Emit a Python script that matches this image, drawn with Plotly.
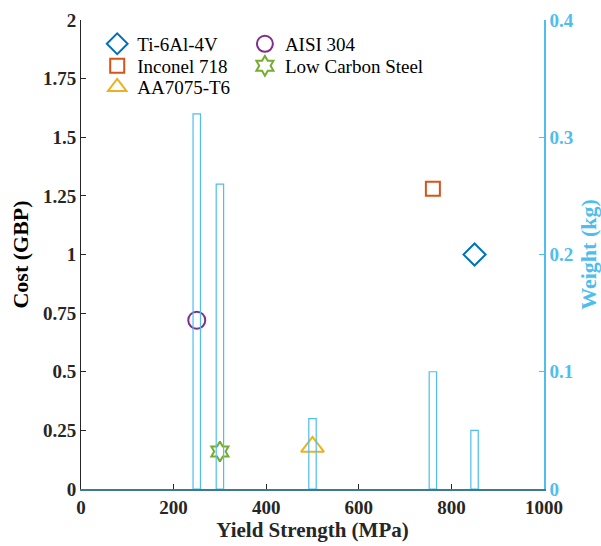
import plotly.graph_objects as go

# Materials: yield strength (MPa), cost (GBP) and part weight (kg)
materials = ["Ti-6Al-4V", "Inconel 718", "AA7075-T6", "AISI 304", "Low Carbon Steel"]
yield_strength = [850, 760, 500, 250, 300]
cost_gbp = [1.0, 1.28, 0.18, 0.72, 0.16]
weight_kg = [0.05, 0.10, 0.06, 0.32, 0.26]

colors = ["#0072BD", "#D95319", "#EDB120", "#7E2F8E", "#77AC30"]
symbols = ["diamond-open", "square-open", "triangle-up-open", "circle-open", "hexagram-open"]
sizes = [17, 14, 20, 17, 15]

left_ticks = [0, 0.25, 0.5, 0.75, 1, 1.25, 1.5, 1.75, 2]
left_ticktext = ["0", "0.25", "0.5", "0.75", "1", "1.25", "1.5", "1.75", "2"]
right_ticks = [0, 0.1, 0.2, 0.3, 0.4]
right_ticktext = ["0", "0.1", "0.2", "0.3", "0.4"]
x_ticks = [0, 200, 400, 600, 800, 1000]

FONT = "Liberation Serif, Times New Roman, serif"
DARK = "#262626"
WEIGHT_BLUE = "#4DBEEE"

# Legend layout: two columns, entries filled top-to-bottom
legend_ids = ["legend", "legend2", "legend3", "legend4", "legend5"]
legend_x = [0.035, 0.035, 0.035, 0.354, 0.354]
legend_y = [0.949, 0.902, 0.857, 0.949, 0.902]

fig = go.Figure()

# Weight bars on the right-hand axis
fig.add_trace(go.Bar(
    x=yield_strength, y=weight_kg, width=16,
    marker=dict(color="rgba(0,0,0,0)", line=dict(color=WEIGHT_BLUE, width=1.2)),
    yaxis="y2", showlegend=False, hoverinfo="x+y",
))

# Cost markers on the left-hand axis
for name, x, c, col, sym, sz, lg in zip(materials, yield_strength, cost_gbp,
                                        colors, symbols, sizes, legend_ids):
    fig.add_trace(go.Scatter(
        x=[x], y=[c], mode="markers", name=name, legend=lg,
        marker=dict(symbol=sym, size=sz, color=col, line=dict(color=col, width=2)),
    ))

legend_layout = {}
for lg, lx, ly in zip(legend_ids, legend_x, legend_y):
    legend_layout[lg] = dict(
        x=lx, y=ly, xanchor="left", yanchor="middle",
        font=dict(family=FONT, size=19, color="#000000"),
        bgcolor="rgba(0,0,0,0)", itemwidth=30,
    )

tick_font = dict(family=FONT, size=19, color=DARK, weight="bold")

fig.update_layout(
    width=601, height=546,
    margin=dict(l=81, r=57, t=20, b=57),
    paper_bgcolor="white", plot_bgcolor="white",
    font=dict(family=FONT, size=19, color=DARK),
    barmode="overlay",
    xaxis=dict(
        range=[0, 1000], tickvals=x_ticks, automargin=False,
        ticks="inside", ticklen=5, tickcolor=DARK,
        showline=True, linecolor="#3b7a93", linewidth=1.5,
        showgrid=False, zeroline=False,
        tickfont=tick_font,
        title=dict(text="Yield Strength (MPa)", standoff=6,
                   font=dict(family=FONT, size=21, color=DARK, weight="bold")),
    ),
    yaxis=dict(
        range=[0, 2], tickvals=left_ticks, ticktext=left_ticktext, automargin=False,
        ticks="inside", ticklen=5, tickcolor=DARK,
        showline=True, linecolor=DARK, linewidth=1,
        showgrid=False, zeroline=False,
        tickfont=tick_font,
        title=dict(text="Cost (GBP)", standoff=8,
                   font=dict(family=FONT, size=22, color="#000000", weight="bold")),
    ),
    yaxis2=dict(
        range=[0, 0.4], tickvals=right_ticks, ticktext=right_ticktext,
        overlaying="y", side="right", automargin=False,
        ticks="inside", ticklen=5, tickcolor=WEIGHT_BLUE,
        showline=True, linecolor=WEIGHT_BLUE, linewidth=1.5,
        showgrid=False, zeroline=False,
        tickfont=dict(family=FONT, size=19, color=WEIGHT_BLUE, weight="bold"),
        title=dict(text="Weight (kg)", standoff=8,
                   font=dict(family=FONT, size=22, color=WEIGHT_BLUE, weight="bold")),
    ),
    **legend_layout,
)

fig.write_html("out.html")
